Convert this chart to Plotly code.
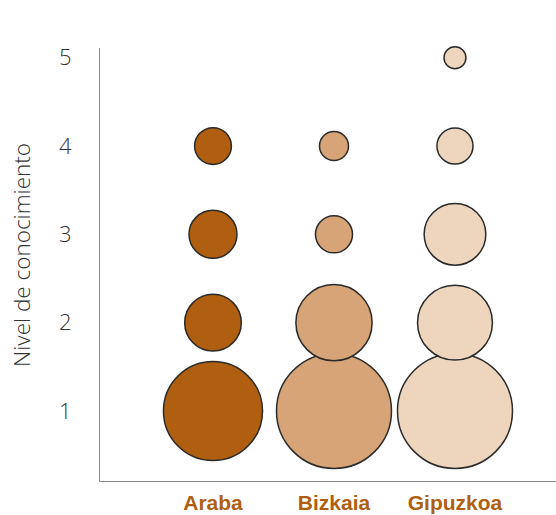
import plotly.graph_objects as go

provinces = ["Araba", "Bizkaia", "Gipuzkoa"]
levels = [1, 2, 3, 4, 5]
# bubble magnitudes (area-proportional); None = no bubble
araba = [98, 32, 23, 13.5, None]
bizkaia = [132, 58, 13.7, 8.4, None]
gipuzkoa = [132, 56, 38, 13, 4.8]
colors = ["#AF5F0F", "#D6A476", "#EED6BE"]
ytick_vals = [1, 2, 3, 4, 5]

series = [araba, bizkaia, gipuzkoa]
maxv = max(v for s in series for v in s if v is not None)
sizeref = 2 * maxv / (115 ** 2)

fig = go.Figure()
for i, (name, vals, col) in enumerate(zip(provinces, series, colors)):
    xs, ys, ss = [], [], []
    for lvl, v in zip(levels, vals):
        if v is None:
            continue
        xs.append(i)
        ys.append(lvl)
        ss.append(v)
    fig.add_trace(go.Scatter(
        x=xs, y=ys, mode="markers", name=name,
        marker=dict(size=ss, sizemode="area", sizeref=sizeref, color=col,
                    opacity=1, line=dict(color="#2a2a2a", width=1.5)),
        hoverinfo="skip", showlegend=False, cliponaxis=False,
    ))

fig.update_layout(
    width=556, height=515,
    margin=dict(l=100, r=0, t=48, b=34),
    paper_bgcolor="white", plot_bgcolor="white",
    xaxis=dict(
        range=[-0.934, 2.835], tickvals=[0, 1, 2], ticktext=provinces,
        showgrid=False, zeroline=False, showline=True, linecolor="#8a8a8a", linewidth=1,
        ticks="", ticklabelstandoff=3, automargin=False,
        tickfont=dict(family="Liberation Sans Narrow, Arial Narrow, Liberation Sans, sans-serif",
                      size=21, color="#AF5F0F", weight="bold"),
    ),
    yaxis=dict(
        range=[0.207, 5.11], tickvals=ytick_vals,
        showgrid=False, zeroline=False, showline=True, linecolor="#8a8a8a", linewidth=1,
        ticks="", ticklabelstandoff=23, automargin=False,
        tickfont=dict(family="Open Sans, sans-serif", size=22, color="#333333", weight=300),
    ),
    annotations=[dict(
        text="Nivel de conocimiento", xref="paper", yref="paper",
        x=-0.171, y=0.522, textangle=-90, showarrow=False,
        font=dict(family="Open Sans, sans-serif", size=22.5, color="#333333", weight=300),
        xanchor="center", yanchor="middle",
    )],
)

fig.write_html("out.html")
